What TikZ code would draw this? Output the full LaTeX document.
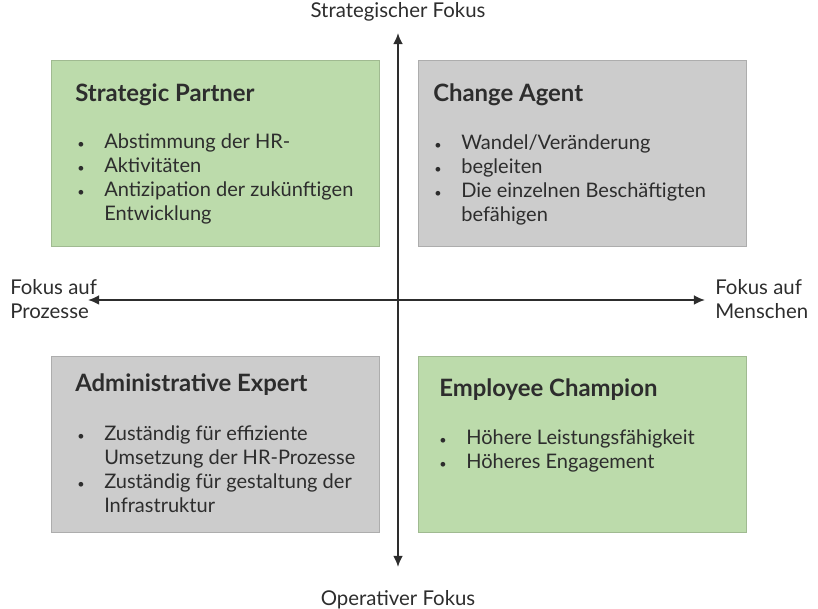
\documentclass[tikz,border=0pt]{standalone}
\usepackage{fontspec}
\setmainfont{Lato}
\usetikzlibrary{arrows.meta}

\definecolor{boxgreen}{RGB}{188,219,171}
\definecolor{boxgray}{RGB}{204,204,204}
\definecolor{inkgray}{RGB}{45,45,45}

\newcommand{\bul}{{\fontsize{9}{9}\selectfont\textbullet}}
\newcommand{\bulletlist}[1]{\begin{tabular}[t]{@{}p{0.675cm}@{}l@{}}#1\end{tabular}}

\begin{document}
\begin{tikzpicture}[
    font=\fontsize{14.25}{17}\selectfont, text=inkgray,
    quadbox/.style={minimum width=8.2cm, inner sep=0, draw=#1!85!black, fill=#1, line width=0.4pt},
    boxtitle/.style={anchor=base west, inner sep=0, font=\fontsize{17}{17}\selectfont\bfseries},
    boxlist/.style={anchor=base west, inner sep=0},
    axislabel/.style={inner sep=0, font=\fontsize{14.5}{16.5}\selectfont},
    axis/.style={inkgray, line width=1.4pt, {Latex[length=2.8mm,width=2.5mm]}-{Latex[length=2.8mm,width=2.5mm]}}
  ]
      \useasboundingbox (-9.95, -7.725) rectangle (10.5, 7.5);

      % quadrants
      \node [quadbox=boxgreen, minimum height=4.65cm] (partnerBox) at (-4.575, 3.675) {};
      \node [quadbox=boxgray, minimum height=4.65cm] (agentBox) at (4.6, 3.675) {};
      \node [quadbox=boxgray, minimum height=4.4cm] (expertBox) at (-4.575, -3.6) {};
      \node [quadbox=boxgreen, minimum height=4.4cm] (championBox) at (4.6, -3.6) {};

      \node [boxtitle] (partnerTitle) at (-8.075, 4.95) {Strategic Partner};
      \node [boxlist] (partnerList) at (-8.025, 3.775) {\bulletlist{
          \bul & Abstimmung der HR-\\
          \bul & Aktivitäten\\
          \bul & Antizipation der zukünftigen\\
               & Entwicklung}};

      \node [boxtitle] (agentTitle) at (0.875, 4.95) {Change Agent};
      \node [boxlist] (agentList) at (0.9, 3.75) {\bulletlist{
          \bul & Wandel/Veränderung\\
          \bul & begleiten\\
          \bul & Die einzelnen Beschäftigten\\
               & befähigen}};

      \node [boxtitle] (expertTitle) at (-8.075, -2.3) {Administrative Expert};
      \node [boxlist] (expertList) at (-8.025, -3.525) {\bulletlist{
          \bul & Zuständig für effiziente\\
               & Umsetzung der HR-Prozesse\\
          \bul & Zuständig für gestaltung der\\
               & Infrastruktur}};

      \node [boxtitle] (championTitle) at (1.025, -2.425) {Employee Champion};
      \node [boxlist] (championList) at (1.025, -3.625) {\bulletlist{
          \bul & Höhere Leistungsfähigkeit\\
          \bul & Höheres Engagement}};

      % axes
      \coordinate (axisTop) at (0, 6.675);
      \coordinate (axisBottom) at (0, -6.675);
      \coordinate (axisLeft) at (-7.75, 0);
      \coordinate (axisRight) at (7.675, 0);
      \draw [axis] (axisBottom) -- (axisTop);
      \draw [axis] (axisLeft) -- (axisRight);

      \node [axislabel, anchor=base] (strategicLabel) at (0, 7.05) {Strategischer Fokus};
      \node [axislabel, anchor=base] (operativeLabel) at (0, -7.625) {Operativer Fokus};
      \node [axislabel, anchor=west, align=left] (processLabel) at (-9.7, 0.025) {Fokus auf\\Prozesse};
      \node [axislabel, anchor=west, align=left] (peopleLabel) at (7.925, 0.025) {Fokus auf\\Menschen};
    \end{tikzpicture}
\end{document}
